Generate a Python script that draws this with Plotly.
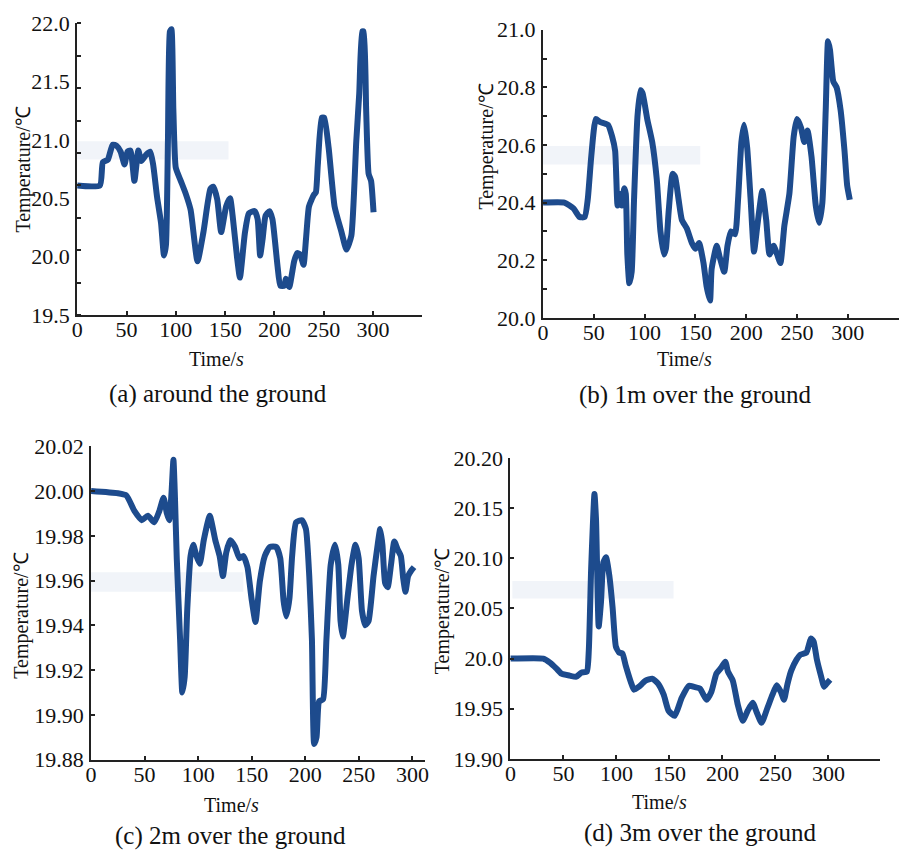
import plotly.graph_objects as go

# ---------------- data ----------------
t_a = [0, 23, 26, 31, 36, 40, 44, 48, 51, 54, 58, 62, 65, 70, 74, 77, 81, 85, 88, 90, 92, 94, 95.5, 97.5, 100,
       105, 110, 115, 122, 128, 135, 138, 142, 146, 151, 155, 158, 162, 165, 170, 174, 180, 183, 185.5, 188, 191,
       195, 198, 203, 206, 210, 211.5, 215, 220, 223, 226, 229.5, 232, 235, 240, 242, 244, 248, 250.5, 255, 261,
       268, 273, 278, 283, 286, 289, 290.5, 293, 295.5, 298, 300.5]
temp_a = [20.61, 20.61, 20.81, 20.83, 20.96, 20.95, 20.90, 20.79, 20.90, 20.91, 20.65, 20.91, 20.82, 20.875, 20.90,
          20.79, 20.51, 20.29, 20.01, 20.10, 20.99, 21.93, 21.95, 21.26, 20.76,
          20.65, 20.54, 20.40, 19.96, 20.21, 20.58, 20.60, 20.49, 20.21, 20.43, 20.50, 20.32, 20.00, 19.82, 20.20,
          20.37, 20.39, 20.32, 20.01, 20.15, 20.35,
          20.39, 20.32, 19.93, 19.75, 19.75, 19.81, 19.74, 19.96, 20.03, 20.02, 19.93, 20.15, 20.43, 20.53, 20.55,
          20.79, 21.19, 21.19, 20.93, 20.43,
          20.21, 20.06, 20.18, 20.99, 21.40, 21.93, 21.93, 21.26, 20.71, 20.65, 20.38]

t_b = [0, 21, 30, 36, 41, 44, 47.5, 52, 56, 64, 68, 71, 73.4, 75.7, 77.6, 80, 81.5, 83, 85, 87.3, 89.6, 93, 96,
       98, 102.6, 107.5, 112, 115.6, 119, 121, 123.7, 127.6, 130, 133.5, 136.7, 141.6, 146.5, 150, 153.6, 158,
       161, 164.4, 166, 171, 174, 178.4, 181.6, 185, 189, 192, 195.3, 198, 201, 204.4, 207.7, 211, 215.8,
       219.7, 223, 227, 230.5, 233.7, 237.6, 242.5, 246.8, 250, 254, 257.2, 260.4, 264.3, 268.5, 271.8, 275,
       278.3, 280.6, 282.5, 285.8, 289, 293, 296.8, 299.4, 302]
temp_b = [20.40, 20.40, 20.38, 20.35, 20.35, 20.41, 20.56, 20.69, 20.68, 20.67, 20.63, 20.58, 20.39, 20.43,
          20.39, 20.45, 20.43, 20.22, 20.12, 20.16, 20.41, 20.70, 20.79,
          20.78, 20.69, 20.61, 20.48, 20.30, 20.22, 20.24, 20.37, 20.50, 20.49, 20.41, 20.34, 20.31, 20.26, 20.24,
          20.26, 20.19,
          20.11, 20.06, 20.17, 20.25, 20.21, 20.16, 20.25, 20.30, 20.29, 20.41, 20.61, 20.67, 20.59, 20.41, 20.23,
          20.32, 20.44,
          20.34, 20.22, 20.25, 20.22, 20.19, 20.32, 20.43, 20.63, 20.69, 20.66, 20.61, 20.65, 20.56, 20.39, 20.33,
          20.40,
          20.72, 20.96, 20.93, 20.82, 20.80, 20.72, 20.58, 20.46, 20.41]

t_c = [0, 25, 33, 40.6, 47.4, 53, 59, 63.7, 67.7, 70.8, 73, 75.1, 76.9, 78.2, 80, 83.1, 85.2, 87.4, 89.8, 92.9,
       95.4, 98.4, 101.5, 105.2, 110.8, 116, 120, 123.1, 126.2, 130, 134.5, 138.5, 142.2, 146, 149.8, 153.5,
       157.5, 162.2, 166.8, 172.9, 176.6, 179.7, 182.2, 185.2, 187.7, 191.4, 196.9, 200.6, 203.7, 206.2, 208.3,
       210.5, 212.9, 216.6, 219.7, 223.7, 227.7, 230.8, 232.9, 235.1, 239.1, 243.1, 246.8, 249.8, 252.9, 256,
       259.1, 263.7, 267.7, 269.9, 272, 274.5, 276.9, 280, 283.1, 286.1, 289.2, 291.4, 293.5, 296, 299.1, 301.5]
temp_c = [20.000, 19.999, 19.998, 19.991, 19.987, 19.989, 19.986, 19.991, 19.997, 19.990, 19.987, 19.999, 20.014,
          19.999, 19.970, 19.934, 19.910, 19.917, 19.947, 19.971,
          19.976, 19.971, 19.9675, 19.978, 19.989, 19.978, 19.971, 19.962, 19.9725, 19.978, 19.975, 19.970,
          19.971, 19.966, 19.952, 19.9415,
          19.9595, 19.971, 19.975, 19.975, 19.970, 19.951, 19.944, 19.952, 19.971, 19.986, 19.987, 19.983,
          19.962, 19.9335, 19.887,
          19.890, 19.906, 19.907, 19.9335, 19.967, 19.976, 19.967, 19.942, 19.935, 19.951, 19.967, 19.976,
          19.970, 19.9465, 19.940,
          19.942, 19.962, 19.9765, 19.983, 19.976, 19.959, 19.957, 19.967, 19.9775, 19.974, 19.971, 19.961,
          19.955, 19.962, 19.9646, 19.966]

t_d = [0, 31, 37.3, 43.5, 48.2, 56, 62.2, 66.9, 72.1, 74, 76.2, 79.3, 80.8, 83.3, 85.5, 87.7, 90.2, 93.3, 96.4,
       99.5, 102.6, 105.7, 108.8, 113.5, 116.6, 121.3, 127.5, 133.7, 139.3, 144.6, 149.2, 155, 161.6, 168.5,
       172.6, 178.8, 185, 189.6, 194.3, 198.9, 202.7, 205.2, 209.8, 214.5, 219.2, 223.8, 228.5, 232.5, 236.9,
       242.5, 247.2, 251.2, 255, 258.1, 261.2, 264.9, 269.9, 273.6, 279.2, 283.5, 286, 289.1, 292.9, 295.9, 299,
       301.6]
temp_d = [20.000, 20.000, 19.996, 19.990, 19.985, 19.983, 19.982, 19.986, 19.987, 20.009, 20.090, 20.164, 20.138,
          20.032, 20.057, 20.096, 20.101, 20.083, 20.051,
          20.012, 20.006, 20.005, 19.993, 19.977, 19.969, 19.972, 19.978, 19.980, 19.975, 19.964, 19.948, 19.943,
          19.961, 19.973,
          19.972, 19.970, 19.959, 19.967, 19.985, 19.991, 19.997, 19.987, 19.978, 19.954, 19.938, 19.948, 19.956,
          19.946, 19.936,
          19.951, 19.964, 19.9735, 19.967, 19.959, 19.974, 19.988, 19.999, 20.004, 20.006, 20.020, 20.017,
          19.999, 19.983, 19.972, 19.976,
          19.979]

x_tick_vals = [0, 50, 100, 150, 200, 250, 300, 350]
x_tick_text = ["0", "50", "100", "150", "200", "250", "300", ""]
y_ticks_d = [19.90, 19.95, 20.00, 20.05, 20.10, 20.15, 20.20]
y_text_d = ["19.90", "19.95", "20.0", "20.05", "20.10", "20.15", "20.20"]

captions = ["(a) around the ground", "(b) 1m over the ground", "(c) 2m over the ground", "(d) 3m over the ground"]
x_title = "Time/<i>s</i>"
y_title = "Temperature/℃"

# ---------------- layout helpers ----------------
W, H = 907, 860
FONT = "Liberation Serif, Times New Roman, serif"
LINE_COLOR = "#1d4b8d"


def px_x(p):
    return p / W


def px_y(p):
    return 1 - p / H


fig = go.Figure()
series = [(t_a, temp_a), (t_b, temp_b), (t_c, temp_c), (t_d, temp_d)]
for i, (tt, vv) in enumerate(series):
    suffix = "" if i == 0 else str(i + 1)
    fig.add_trace(go.Scatter(x=tt, y=vv, mode="lines", xaxis="x" + suffix, yaxis="y" + suffix,
                             line=dict(color=LINE_COLOR, width=6, shape="spline", smoothing=0.5),
                             showlegend=False, hoverinfo="skip"))

# panel geometry in pixels: (x0, x1, ytop, ybottom)
geo = [(72, 421, 11.7, 312), (543, 902.5, 18.3, 315), (86, 423.3, 447.3, 770), (510, 883.3, 459.3, 769.3)]
x_ranges = [[0, 350], [0, 350], [0, 311.4], [0, 348.2]]
y_ranges = [[19.5, 22.0], [20.0, 21.0], [19.88, 20.02], [19.90, 20.20]]

axis_common = dict(showline=True, linecolor="#222", linewidth=2, showgrid=False, zeroline=False,
                   ticks="inside", ticklen=4, tickwidth=2, tickcolor="#222",
                   tickfont=dict(family=FONT, size=22, color="#111"))

layout = dict(width=W, height=H, margin=dict(l=0, r=0, t=0, b=0),
              paper_bgcolor="white", plot_bgcolor="rgba(0,0,0,0)", showlegend=False)

for i in range(4):
    suffix = "" if i == 0 else str(i + 1)
    x0, x1, yt, yb = geo[i]
    xa = dict(axis_common, domain=[px_x(x0), px_x(x1)], range=x_ranges[i], anchor="y" + suffix,
              tickmode="array", tickvals=x_tick_vals, ticktext=x_tick_text, ticklabelstandoff=-6)
    ya = dict(axis_common, domain=[px_y(yb), px_y(yt)], range=y_ranges[i], anchor="x" + suffix,
              ticklabelstandoff=1)
    if i == 0:
        ya.update(tickmode="array", tickvals=[19.5, 20.0, 20.5, 21.0, 21.5, 22.0], tickformat=".1f", ticks="",
                  minor=dict(tickmode="array", tickvals=[19.5 + k * 2.5 / 9 for k in range(10)],
                             ticks="inside", ticklen=4, tickwidth=2, tickcolor="#222"))
    elif i == 1:
        ya.update(dtick=0.2, tick0=20.0, tickformat=".1f",
                  minor=dict(dtick=0.1, ticks="inside", ticklen=4, tickwidth=2, tickcolor="#222"))
    elif i == 2:
        ya.update(dtick=0.02, tick0=19.88, tickformat=".2f")
    else:
        ya.update(tickmode="array", tickvals=y_ticks_d, ticktext=y_text_d)
    layout["xaxis" + suffix] = xa
    layout["yaxis" + suffix] = ya

fig.update_layout(**layout)

# faint legend-box artefacts
boxes = [(72, 225, 133, 152), (543, 702, 138, 157), (86, 240, 577, 597), (512, 675, 586, 604)]
for (bx0, bx1, by0, by1) in boxes:
    fig.add_shape(type="rect", xref="paper", yref="paper", x0=px_x(bx0), x1=px_x(bx1),
                  y0=px_y(by1), y1=px_y(by0), fillcolor="#f1f4f9", line=dict(width=0), layer="below")

# text labels
ytitle_pos = [(17.5, 162), (486, 139), (16, 622), (441, 617)]
xtitle_pos = [(212.5, 357), (686, 357), (228, 817), (661, 814)]
caption_pos = [(214, 393), (697, 394), (227, 849), (702, 846)]
for i in range(4):
    fig.add_annotation(x=px_x(ytitle_pos[i][0]), y=px_y(ytitle_pos[i][1]), xref="paper", yref="paper",
                       text=y_title, textangle=-90, showarrow=False, xanchor="center", yanchor="middle",
                       font=dict(family=FONT, size=20, color="#111"))
    fig.add_annotation(x=px_x(xtitle_pos[i][0]), y=px_y(xtitle_pos[i][1]), xref="paper", yref="paper",
                       text=x_title, showarrow=False, xanchor="center", yanchor="middle",
                       font=dict(family=FONT, size=20, color="#111"))
    fig.add_annotation(x=px_x(caption_pos[i][0]), y=px_y(caption_pos[i][1]), xref="paper", yref="paper",
                       text=captions[i], showarrow=False, xanchor="center", yanchor="middle",
                       font=dict(family=FONT, size=25, color="#111"))

fig.write_html("out.html")
